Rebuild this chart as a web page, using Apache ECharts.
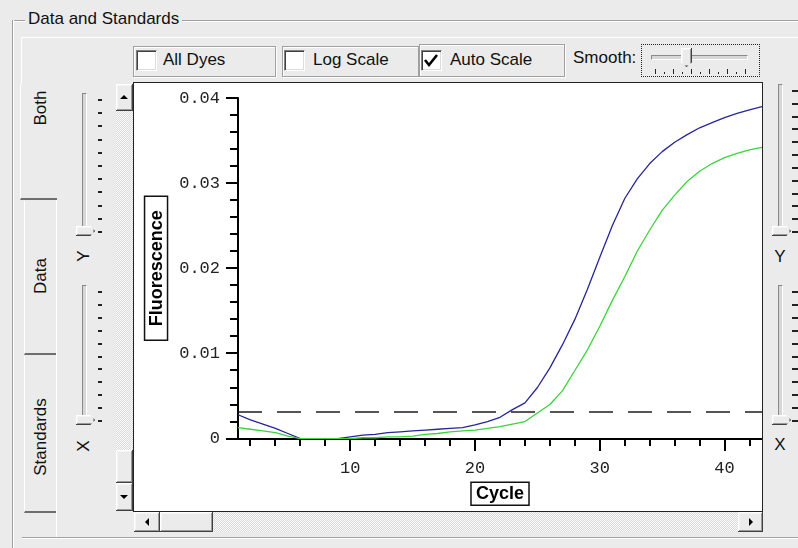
<!DOCTYPE html>
<html>
<head>
<meta charset="utf-8">
<title>Data and Standards</title>
<script src="https://cdn.jsdelivr.net/npm/echarts@6/dist/echarts.min.js"></script>
<style>
html, body { margin: 0; padding: 0; }
body { width: 798px; height: 548px; position: relative; overflow: hidden; background: #ebebeb;
  font-family: "Liberation Sans", Arial, sans-serif; font-size: 17px; color: #111; }
.eh { position: absolute; height: 0; border-top: 1px solid #a0a0a0; border-bottom: 1px solid #fff; }
.ev { position: absolute; width: 0; border-left: 1px solid #a0a0a0; border-right: 1px solid #fff; }
.frame { position: absolute; box-sizing: border-box; border: 1px solid #a0a0a0; box-shadow: inset 1px 1px #fff, 1px 1px #fff; }
.chk { position: absolute; box-sizing: border-box; width: 21px; height: 21px; background: #fff;
  border: 1px solid; border-color: #808080 #fff #fff #808080; box-shadow: inset 1px 1px #404040, inset -1px -1px #dcdcdc; }
.lbl { position: absolute; white-space: nowrap; line-height: 20px; }
.ctr { position: absolute; white-space: nowrap; line-height: 20px; transform: translate(-50%, -50%); }
.rot { position: absolute; white-space: nowrap; line-height: 20px; transform: translate(-50%, -50%) rotate(-90deg); }
.btn { position: absolute; box-sizing: border-box; background: #ebebeb;
  box-shadow: inset -1px -1px #404040, inset 1px 1px #fff, inset -2px -2px #9a9a9a, inset 2px 2px #f4f4f4; }
.track { position: absolute; background: repeating-conic-gradient(#fbfbfb 0 25%, #dadada 0 50%) 0 0 / 2px 2px; }
.tri { position: absolute; width: 0; height: 0; }
.groove { position: absolute; box-sizing: border-box; border: 1px solid; border-color: #8a8a8a #fff #fff #8a8a8a; background: #d6d6d6; }
.sldtick { position: absolute; background: #222; }
.axtick { position: absolute; background: #000; z-index: 5; }
#plot { position: absolute; left: 133px; top: 82px; width: 628px; height: 428px; border: 1px solid #222; background: #fff; }
</style>
</head>
<body>
<div id="plot"></div>
<script>
// values
const cycles = [1, 2, 3, 4, 5, 6, 7, 8, 9, 10, 11, 12, 13, 14, 15, 16, 17, 18, 19, 20, 21,
  22, 23, 24, 25, 26, 27, 28, 29, 30, 31, 32, 33, 34, 35, 36, 37, 38, 39, 40, 41, 42, 43];
const blueValues = [0.0028, 0.0022, 0.0017, 0.0012, 0.0006, 0.0000, 0.0000, 0.0000, 0.0000, 0.0002,
  0.0004, 0.0005, 0.0007, 0.0008, 0.0009, 0.0010, 0.0011, 0.0012, 0.0013, 0.0016, 0.0020, 0.0025,
  0.0034, 0.0042, 0.0060, 0.0083, 0.0110, 0.0140, 0.0175, 0.0213, 0.0250, 0.0282, 0.0305, 0.0323,
  0.0337, 0.0348, 0.0357, 0.0365, 0.0371, 0.0377, 0.0382, 0.0386, 0.0390];
const greenValues = [0.0013, 0.0011, 0.0009, 0.0007, 0.0003, 0.0000, 0.0000, 0.0000, 0.0000, 0.0000,
  0.0001, 0.0001, 0.0002, 0.0002, 0.0003, 0.0005, 0.0006, 0.0008, 0.0009, 0.0010, 0.0012, 0.0014,
  0.0017, 0.0020, 0.0030, 0.0040, 0.0056, 0.0080, 0.0104, 0.0132, 0.0162, 0.0190, 0.0220, 0.0245,
  0.0268, 0.0286, 0.0302, 0.0314, 0.0323, 0.0330, 0.0335, 0.0339, 0.0342];
const threshold = 0.0031;
const yMin = 0, yMax = 0.04;
const xMajorTicks = [10, 20, 30, 40];
const xMinorTicks = [2, 4, 6, 8, 12, 14, 16, 18, 22, 24, 26, 28, 32, 34, 36, 38, 42];
const yMajorTicks = [0, 0.01, 0.02, 0.03, 0.04];
const yMinorTicks = [0.002, 0.004, 0.006, 0.008, 0.012, 0.014, 0.016, 0.018, 0.022, 0.024,
  0.026, 0.028, 0.032, 0.034, 0.036, 0.038];

// ---- window chrome (plain html) ----
function el(cls, css, text) {
  const d = document.createElement('div');
  d.className = cls;
  Object.assign(d.style, css);
  if (text !== undefined) d.textContent = text;
  document.body.appendChild(d);
  return d;
}
function px(v) { return v + 'px'; }
function box(cls, l, t, w, h) { return el(cls, { left: px(l), top: px(t), width: px(w), height: px(h) }); }
function arrow(dir, cx, cy) {
  const s = 4, css = {};
  if (dir === 'up' || dir === 'down') {
    css.borderLeft = css.borderRight = s + 'px solid transparent';
    css[dir === 'up' ? 'borderBottom' : 'borderTop'] = s + 'px solid #000';
    css.left = px(cx - s); css.top = px(cy - s / 2);
  } else {
    css.borderTop = css.borderBottom = s + 'px solid transparent';
    css[dir === 'left' ? 'borderRight' : 'borderLeft'] = s + 'px solid #000';
    css.left = px(cx - s / 2); css.top = px(cy - s);
  }
  el('tri', css);
}

// group box
el('eh', { left: '12px', top: '20px', width: '786px' });
el('ev', { left: '12px', top: '20px', height: '528px' });
el('lbl', { left: '25px', top: '9px', background: '#ebebeb', padding: '0 3px' }, 'Data and Standards');
el('eh', { left: '22px', top: '537px', width: '776px' });

// tab panel outline
el('lbl', { left: '22px', top: '37px', width: '776px', height: '0', borderTop: '1px solid #fff' });
el('lbl', { left: '21px', top: '37px', width: '0', height: '47px', borderLeft: '1px solid #fff' });
el('lbl', { left: '56px', top: '200px', width: '0', height: '337px', borderLeft: '1px solid #fff' });
// tabs
el('lbl', { left: '20px', top: '84px', width: '36px', height: '114px', borderLeft: '1px solid #fff', borderBottom: '2px solid #6e6e6e' });
el('lbl', { left: '24px', top: '201px', width: '31px', height: '152px', borderLeft: '1px solid #fff', borderBottom: '2px solid #6e6e6e' });
el('lbl', { left: '24px', top: '356px', width: '31px', height: '155px', borderLeft: '1px solid #fff', borderBottom: '2px solid #6e6e6e' });
el('rot', { left: '41px', top: '108px' }, 'Both');
el('rot', { left: '41px', top: '276px' }, 'Data');
el('rot', { left: '41px', top: '437px' }, 'Standards');

// checkbox row
box('frame', 133, 46, 143, 31);
box('frame', 282, 46, 137, 31);
box('frame', 419, 44, 146, 33);
box('chk', 136, 50, 21, 21);
box('chk', 284, 50, 21, 21);
const autoChk = box('chk', 421, 50, 21, 21);
autoChk.innerHTML = '<svg width="19" height="19" style="position:absolute;left:0;top:0"><polyline points="3,9 7,14 15,4" fill="none" stroke="#000" stroke-width="2.6"/></svg>';
el('lbl', { left: '163px', top: '50px' }, 'All Dyes');
el('lbl', { left: '313px', top: '50px' }, 'Log Scale');
el('lbl', { left: '450px', top: '50px' }, 'Auto Scale');
el('lbl', { left: '573px', top: '48px' }, 'Smooth:');

// smooth slider
el('lbl', { left: '641px', top: '44px', width: '117px', height: '31px', border: '1px dotted #222' });
box('groove', 651, 55, 97, 5);
const sth = box('btn', 681, 48, 11, 19);
sth.style.clipPath = 'polygon(0 0,100% 0,100% 75%,50% 100%,0 75%)';
for (let i = 0; i < 11; i++) {
  const x = 655 + i * 9;
  el('sldtick', { left: px(x), top: px(i % 2 ? 72 : 69), width: '1px', height: px(i % 2 ? 2 : 5) });
}

// vertical sliders
function slider(x, tickX, tickW, y0, y1, nTicks, thumbY, label, labelY, rotated) {
  box('groove', x, y0, 5, y1 - y0);
  for (let i = 0; i < nTicks; i++) {
    const y = y0 + 6 + i * (y1 - y0 - 6) / (nTicks - 1);
    el('sldtick', { left: px(tickX), top: px(Math.round(y)), width: px(tickW), height: '2px' });
  }
  const th = box('btn', x - 6, thumbY, 19, 10);
  th.style.clipPath = 'polygon(0 0,75% 0,100% 50%,75% 100%,0 100%)';
  el(rotated ? 'rot' : 'ctr', { left: px(x + 2), top: px(labelY) }, label);
}
slider(82, 98, 4, 93, 231, 11, 226, 'Y', 256, true);
slider(82, 98, 4, 285, 420, 11, 415, 'X', 446, true);
slider(778, 792, 6, 84, 231, 12, 226, 'Y', 257, false);
slider(778, 792, 6, 285, 420, 11, 415, 'X', 445, false);

// scrollbars
box('track', 116, 111, 17, 339);
box('btn', 116, 84, 17, 27); arrow('up', 124, 97);
box('btn', 116, 450, 17, 33);
box('btn', 116, 483, 17, 28); arrow('down', 124, 497);
box('track', 213, 512, 525, 20);
box('btn', 134, 512, 26, 20); arrow('left', 147, 522);
box('btn', 160, 512, 53, 20);
box('btn', 738, 512, 25, 20); arrow('right', 751, 522);

// ---- chart ----
const dom = document.getElementById('plot');
const myChart = echarts.init(dom);

const grid = { left: 104, right: 0, top: 15, bottom: 70 };
const xMin = cycles[0], xMax = cycles[cycles.length - 1];
const tickFont = { fontFamily: 'Liberation Mono', fontSize: 17, color: '#222' };
const nameFont = { fontFamily: 'Liberation Sans', fontWeight: 'bold', fontSize: 18, color: '#000',
  borderColor: '#111', borderWidth: 1.5 };

const option = {
  animation: false,
  grid: grid,
  xAxis: {
    type: 'value', min: xMin, max: xMax,
    axisLine: { show: true, onZero: false, lineStyle: { color: '#000', width: 2 } },
    axisTick: { show: false },
    axisLabel: Object.assign({ margin: 21, showMinLabel: false, showMaxLabel: false }, tickFont),
    splitLine: { show: false },
    name: 'Cycle', nameLocation: 'middle', nameGap: 42,
    nameTextStyle: Object.assign({ padding: [3, 5, 2, 5] }, nameFont)
  },
  yAxis: {
    type: 'value', min: yMin, max: yMax, interval: 0.01,
    axisLine: { show: true, lineStyle: { color: '#000', width: 2 } },
    axisTick: { show: false },
    axisLabel: Object.assign({ margin: 18 }, tickFont),
    splitLine: { show: false },
    name: 'Fluorescence', nameLocation: 'middle', nameRotate: 90, nameGap: 70,
    nameTextStyle: Object.assign({ padding: [3, 14, 2, 14] }, nameFont)
  },
  series: [
    {
      name: 'FAM', type: 'line', symbol: 'none', smooth: false,
      data: cycles.map((c, i) => [c, blueValues[i]]),
      lineStyle: { color: '#25259c', width: 1.3 },
      markLine: {
        silent: true, precision: 5, symbol: ['none', 'none'], label: { show: false },
        lineStyle: { color: '#1e1e1e', width: 1.6, type: [24, 15] },
        data: [{ yAxis: threshold }]
      }
    },
    {
      name: 'VIC', type: 'line', symbol: 'none', smooth: false,
      data: cycles.map((c, i) => [c, greenValues[i]]),
      lineStyle: { color: '#3cd23c', width: 1.3 }
    }
  ]
};
myChart.setOption(option);

// tick marks: positions come from the chart's own scale
function toPixel(x, y) {
  let p = null;
  try { p = myChart.convertToPixel({ gridIndex: 0 }, [x, y]); } catch (e) { p = null; }
  if (!p || !isFinite(p[0]) || !isFinite(p[1])) {
    // same linear mapping as the grid, if the api call is not available
    const w = dom.clientWidth - grid.left - grid.right;
    const h = dom.clientHeight - grid.top - grid.bottom;
    p = [grid.left + (x - xMin) / (xMax - xMin) * w,
      grid.top + (1 - (y - yMin) / (yMax - yMin)) * h];
  }
  return p;
}
const r = dom.getBoundingClientRect();
const ox = r.left + dom.clientLeft, oy = r.top + dom.clientTop;
function xTick(v, len) {
  const p = toPixel(v, yMin);
  el('axtick', { left: px(ox + Math.round(p[0]) - 1), top: px(oy + Math.round(p[1])), width: '2px', height: px(len) });
}
function yTick(v, len) {
  const p = toPixel(xMin, v);
  el('axtick', { left: px(ox + Math.round(p[0]) - len), top: px(oy + Math.round(p[1]) - 1), width: px(len), height: '2px' });
}
xMajorTicks.forEach(v => xTick(v, 12));
xMinorTicks.forEach(v => xTick(v, 7));
yMajorTicks.forEach(v => yTick(v, 12));
yMinorTicks.forEach(v => yTick(v, 8));
</script>
</body>
</html>
